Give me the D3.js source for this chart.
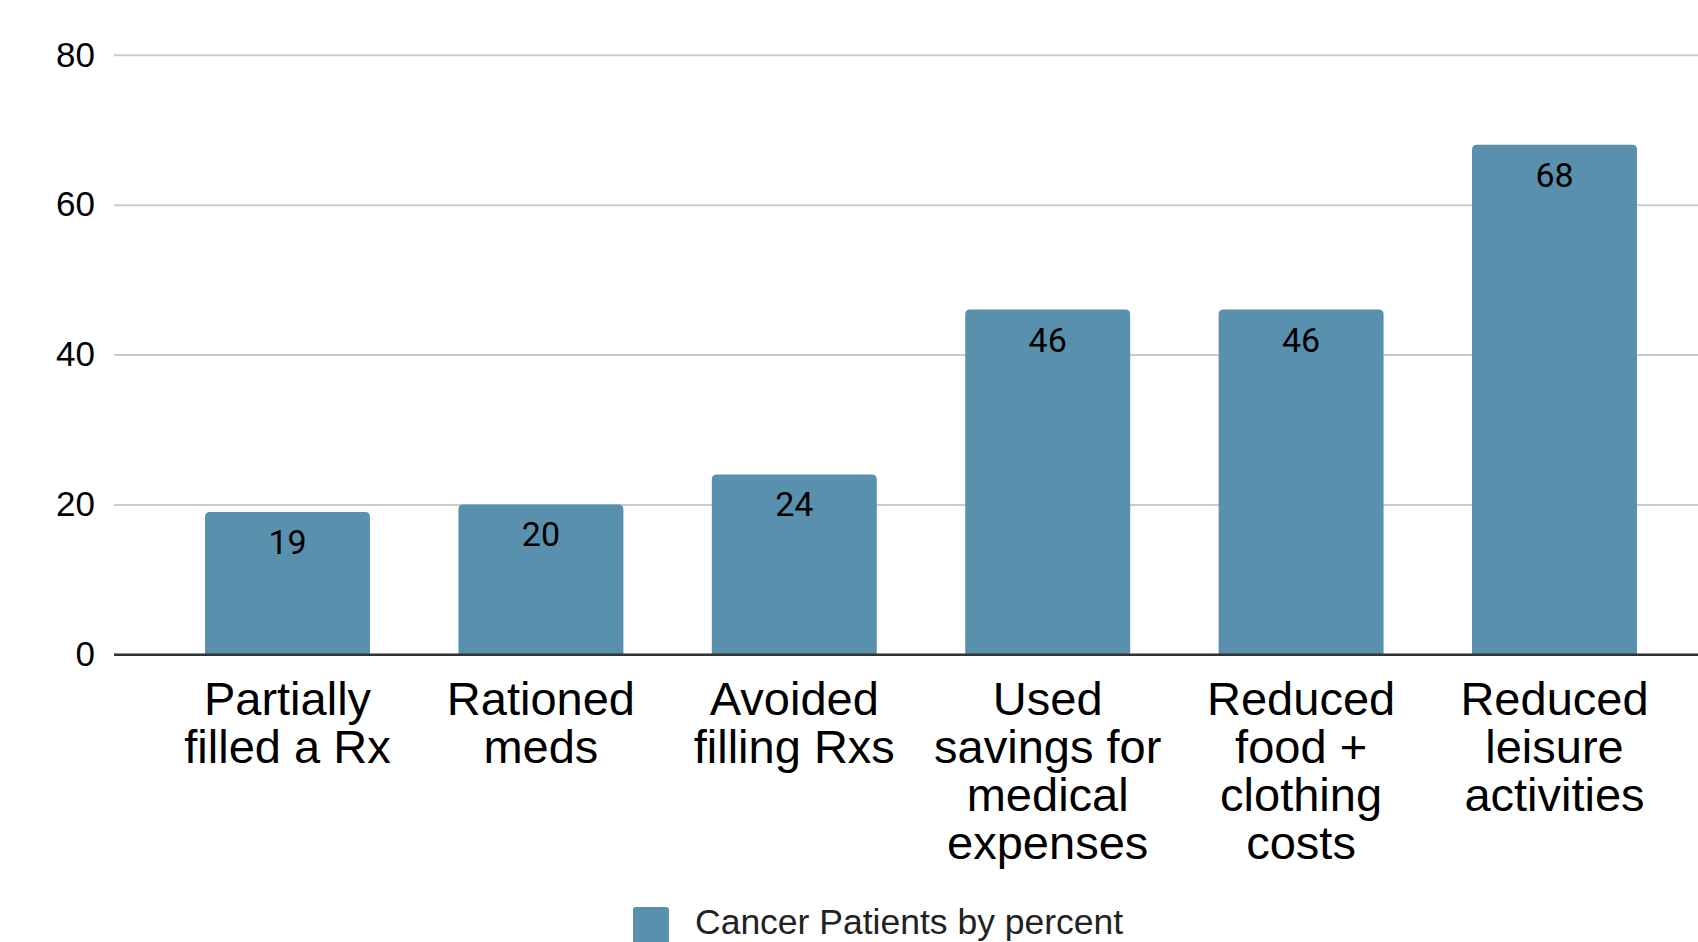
<!DOCTYPE html>
<html>
<head>
<meta charset="utf-8">
<script src="https://cdn.jsdelivr.net/npm/d3@7"></script>
<style>
  html, body { margin: 0; padding: 0; background: #ffffff; }
  svg { display: block; }
</style>
</head>
<body>
<svg id="chart" width="1698" height="942"></svg>
<script>
// Survey results: share of cancer patients taking each cost-coping step
const categories = [
  "Partially filled a Rx",
  "Rationed meds",
  "Avoided filling Rxs",
  "Used savings for medical expenses",
  "Reduced food + clothing costs",
  "Reduced leisure activities"
];
const categoryLines = [
  ["Partially", "filled a Rx"],
  ["Rationed", "meds"],
  ["Avoided", "filling Rxs"],
  ["Used", "savings for", "medical", "expenses"],
  ["Reduced", "food +", "clothing", "costs"],
  ["Reduced", "leisure", "activities"]
];
const values = [19, 20, 24, 46, 46, 68];
const yTicks = [0, 20, 40, 60, 80];
const seriesName = "Cancer Patients by percent";

const barColor = "#5890ae";
const svg = d3.select("#chart");

const x = d3.scaleBand()
  .domain(categories)
  .range([160.8, 1681.2])
  .paddingInner(0.349)
  .paddingOuter(0.1745);

const y = d3.scaleLinear()
  .domain([0, 80])
  .range([654.3, 54.8]);

// Horizontal gridlines and y tick labels
const yAxis = d3.axisLeft(y)
  .tickValues(yTicks)
  .tickSize(-(1698 - 114))
  .tickPadding(20)
  .tickFormat(d3.format("d"));

const yg = svg.append("g")
  .attr("transform", "translate(114,0)")
  .call(yAxis);
yg.select(".domain").remove();
yg.selectAll(".tick line")
  .attr("stroke", "#cccccc")
  .attr("stroke-width", 2);
yg.selectAll(".tick text")
  .attr("x", -19)
  .attr("fill", "#000000")
  .style("font-family", "'Liberation Sans', Arial, sans-serif")
  .style("font-size", "35px");

// Bars with rounded top corners
const r = 5;
function barPath(d, i) {
  const x0 = x(categories[i]);
  const w = x.bandwidth();
  const top = y(d);
  const bottom = y(0);
  return `M${x0},${bottom}V${top + r}Q${x0},${top} ${x0 + r},${top}` +
         `H${x0 + w - r}Q${x0 + w},${top} ${x0 + w},${top + r}V${bottom}Z`;
}

svg.append("g")
  .selectAll("path")
  .data(values)
  .join("path")
  .attr("d", (d, i) => barPath(d, i))
  .attr("fill", barColor);

// Value labels inside each bar
svg.append("g")
  .selectAll("text")
  .data(values)
  .join("text")
  .attr("x", (d, i) => x(categories[i]) + x.bandwidth() / 2)
  .attr("y", d => y(d) + 42)
  .attr("text-anchor", "middle")
  .attr("fill", "#000000")
  .style("font-family", "Roboto, sans-serif")
  .style("font-size", "34px")
  .text(d => d);

// Baseline
svg.append("line")
  .attr("x1", 114)
  .attr("x2", 1698)
  .attr("y1", y(0) + 0.5)
  .attr("y2", y(0) + 0.5)
  .attr("stroke", "#333333")
  .attr("stroke-width", 2.6);

// Category labels, wrapped onto several lines
const xl = svg.append("g")
  .selectAll("text")
  .data(categories)
  .join("text")
  .attr("text-anchor", "middle")
  .attr("fill", "#000000")
  .style("font-family", "'Liberation Sans', Arial, sans-serif")
  .style("font-size", "47px");

xl.each(function (c, i) {
  const t = d3.select(this);
  const cx = x(c) + x.bandwidth() / 2;
  categoryLines[i].forEach((line, j) => {
    t.append("tspan")
      .attr("x", cx)
      .attr("y", 715 + j * 48)
      .text(line);
  });
});

// Legend
const legend = svg.append("g");
legend.append("rect")
  .attr("x", 633)
  .attr("y", 907)
  .attr("width", 36)
  .attr("height", 40)
  .attr("rx", 3)
  .attr("fill", barColor);
legend.append("text")
  .attr("x", 695)
  .attr("y", 934)
  .attr("fill", "#222222")
  .style("font-family", "'Liberation Sans', Arial, sans-serif")
  .style("font-size", "35.5px")
  .text(seriesName);
</script>
</body>
</html>
